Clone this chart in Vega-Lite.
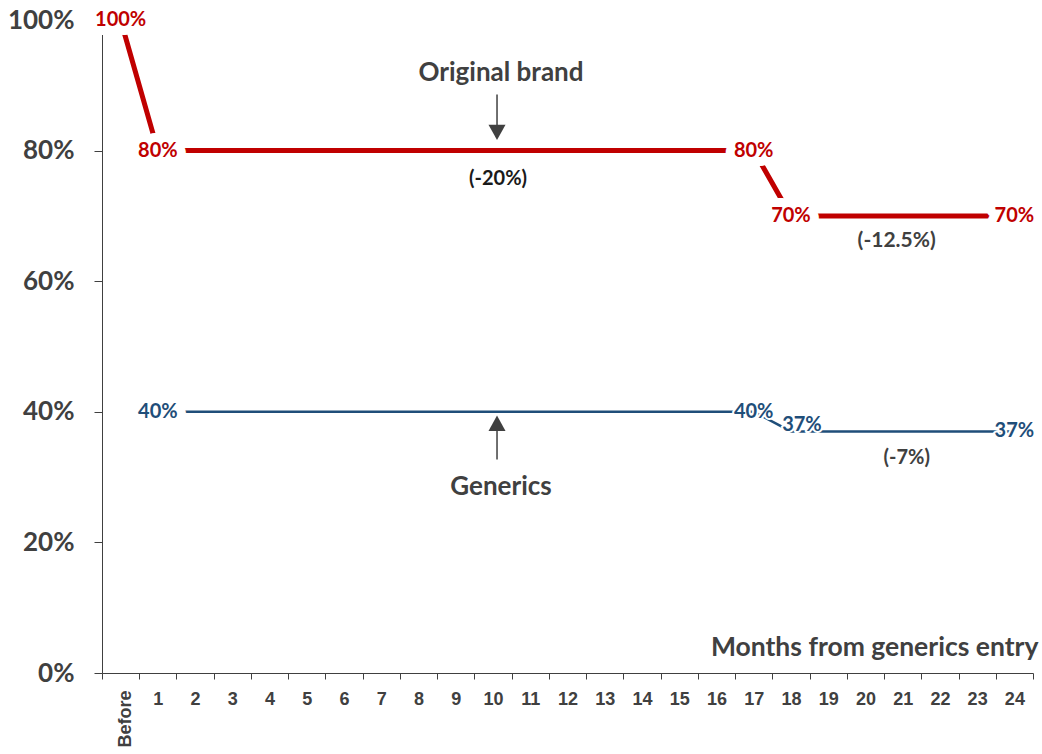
{
  "$schema": "https://vega.github.io/schema/vega-lite/v6.json",
  "width": 931,
  "height": 653,
  "autosize": "none",
  "padding": {"left": 102, "top": 20, "right": 9, "bottom": 81},
  "background": "white",
  "config": {"view": {"stroke": null}},
  "datasets": {
    "brand": [
      {"month": "Before", "share": 1.0},
      {"month": "1", "share": 0.8},
      {"month": "17", "share": 0.8},
      {"month": "18", "share": 0.7},
      {"month": "24", "share": 0.7}
    ],
    "generics": [
      {"month": "1", "share": 0.4},
      {"month": "17", "share": 0.4},
      {"month": "18", "share": 0.37},
      {"month": "24", "share": 0.37}
    ]
  },
  "encoding": {
    "x": {
      "field": "month",
      "type": "ordinal",
      "scale": {
        "type": "band",
        "domain": ["Before","1","2","3","4","5","6","7","8","9","10","11","12","13","14","15","16","17","18","19","20","21","22","23","24"],
        "paddingInner": 0,
        "paddingOuter": 0
      },
      "axis": {
        "title": null,
        "tickBand": "extent",
        "tickSize": 6,
        "labelFont": "Liberation Sans",
        "labelFontSize": 18,
        "labelFontWeight": "bold",
        "labelColor": "#404040",
        "domainColor": "#404040",
        "tickColor": "#404040",
        "labelPadding": 11,
        "labelAngle": {"expr": "datum.value === 'Before' ? 270 : 0"},
        "labelAlign": {"expr": "datum.value === 'Before' ? 'right' : 'center'"},
        "labelBaseline": {"expr": "datum.value === 'Before' ? 'middle' : 'top'"},
        "labelOffset": {"expr": "datum.value === 'Before' ? 5 : 0"}
      }
    },
    "y": {
      "field": "share",
      "type": "quantitative",
      "scale": {"domain": [0, 1], "nice": false, "zero": true},
      "axis": {
        "title": null,
        "values": [0, 0.2, 0.4, 0.6, 0.8, 1],
        "format": ".0%",
        "grid": false,
        "tickSize": 8,
        "labelPadding": 20,
        "labelFont": "Lato",
        "labelFontSize": 26,
        "labelFontWeight": "bold",
        "labelColor": "#404040",
        "domainColor": "#404040",
        "tickColor": "#404040"
      }
    }
  },
  "layer": [
    {"data": {"name": "brand"}, "mark": {"type": "line", "color": "#C00000", "strokeWidth": 5}},
    {"data": {"name": "generics"}, "mark": {"type": "line", "color": "#1F4E79", "strokeWidth": 2.5}},
    {
      "data": {"name": "brand"},
      "mark": {"type": "text", "font": "Lato", "fontSize": 20, "fontWeight": "bold", "fill": "white", "stroke": "white", "strokeWidth": 18, "strokeJoin": "round"},
      "encoding": {"text": {"field": "share", "format": ".0%"}}
    },
    {
      "data": {"name": "generics"},
      "transform": [{"filter": "datum.month === '1'"}],
      "mark": {"type": "text", "font": "Lato", "fontSize": 20, "fontWeight": "bold", "fill": "white", "stroke": "white", "strokeWidth": 18, "strokeJoin": "round"},
      "encoding": {"text": {"field": "share", "format": ".0%"}}
    },
    {
      "data": {"name": "generics"},
      "transform": [{"filter": "datum.month === '17' || datum.month === '24'"}],
      "mark": {"type": "text", "font": "Lato", "fontSize": 20, "fontWeight": "bold", "fill": "white", "stroke": "white", "strokeWidth": 4, "strokeJoin": "round"},
      "encoding": {"text": {"field": "share", "format": ".0%"}}
    },
    {
      "data": {"name": "generics"},
      "transform": [{"filter": "datum.month === '18'"}],
      "mark": {"type": "text", "font": "Lato", "fontSize": 20, "fontWeight": "bold", "fill": "white", "stroke": "white", "strokeWidth": 4, "strokeJoin": "round", "dx": 11, "dy": -6},
      "encoding": {"text": {"field": "share", "format": ".0%"}}
    },
    {
      "data": {"name": "brand"},
      "mark": {"type": "text", "font": "Lato", "fontSize": 20, "fontWeight": "bold", "color": "#C00000"},
      "encoding": {"text": {"field": "share", "format": ".0%"}}
    },
    {
      "data": {"name": "generics"},
      "transform": [{"filter": "datum.month !== '18'"}],
      "mark": {"type": "text", "font": "Lato", "fontSize": 20, "fontWeight": "bold", "color": "#1F4E79"},
      "encoding": {"text": {"field": "share", "format": ".0%"}}
    },
    {
      "data": {"name": "generics"},
      "transform": [{"filter": "datum.month === '18'"}],
      "mark": {"type": "text", "font": "Lato", "fontSize": 20, "fontWeight": "bold", "color": "#1F4E79", "dx": 11, "dy": -6},
      "encoding": {"text": {"field": "share", "format": ".0%"}}
    },
    {
      "data": {"values": [{"month": "10", "share": 0.886, "share2": 0.83}, {"month": "10", "share": 0.327, "share2": 0.375}]},
      "mark": {"type": "rule", "color": "#404040", "strokeWidth": 1.5, "xOffset": 4},
      "encoding": {"y2": {"field": "share2"}}
    },
    {
      "data": {"values": [{"month": "10", "share": 0.828}]},
      "mark": {"type": "point", "shape": "M-1,-0.9L1,-0.9L0,0.9Z", "size": 290, "filled": true, "color": "#404040", "opacity": 1, "xOffset": 4}
    },
    {
      "data": {"values": [{"month": "10", "share": 0.3825}]},
      "mark": {"type": "point", "shape": "M-1,0.9L1,0.9L0,-0.9Z", "size": 290, "filled": true, "color": "#404040", "opacity": 1, "xOffset": 4}
    },
    {
      "data": {"values": [{"month": "10", "share": 0.919, "label": "Original brand"}, {"month": "10", "share": 0.285, "label": "Generics"}]},
      "mark": {"type": "text", "font": "Lato", "fontSize": 26, "fontWeight": "bold", "color": "#404040", "dx": 8},
      "encoding": {"text": {"field": "label"}}
    },
    {
      "data": {"values": [{"month": "10", "share": 0.756, "label": "(-20%)"}]},
      "mark": {"type": "text", "font": "Lato", "fontSize": 20, "fontWeight": "bold", "color": "#1a1a1a", "dx": 5},
      "encoding": {"text": {"field": "label"}}
    },
    {
      "data": {"values": [{"month": "21", "share": 0.661, "label": "(-12.5%)"}]},
      "mark": {"type": "text", "font": "Lato", "fontSize": 21, "fontWeight": "bold", "color": "#404040", "dx": -6},
      "encoding": {"text": {"field": "label"}}
    },
    {
      "data": {"values": [{"month": "21", "share": 0.329, "label": "(-7%)"}]},
      "mark": {"type": "text", "font": "Lato", "fontSize": 20, "fontWeight": "bold", "color": "#404040", "dx": 4},
      "encoding": {"text": {"field": "label"}}
    },
    {
      "data": {"values": [{"month": "24", "share": 0.039, "label": "Months from generics entry"}]},
      "mark": {"type": "text", "font": "Lato", "fontSize": 26.5, "fontWeight": "bold", "color": "#404040", "align": "right", "dx": 24},
      "encoding": {"text": {"field": "label"}}
    }
  ]
}
